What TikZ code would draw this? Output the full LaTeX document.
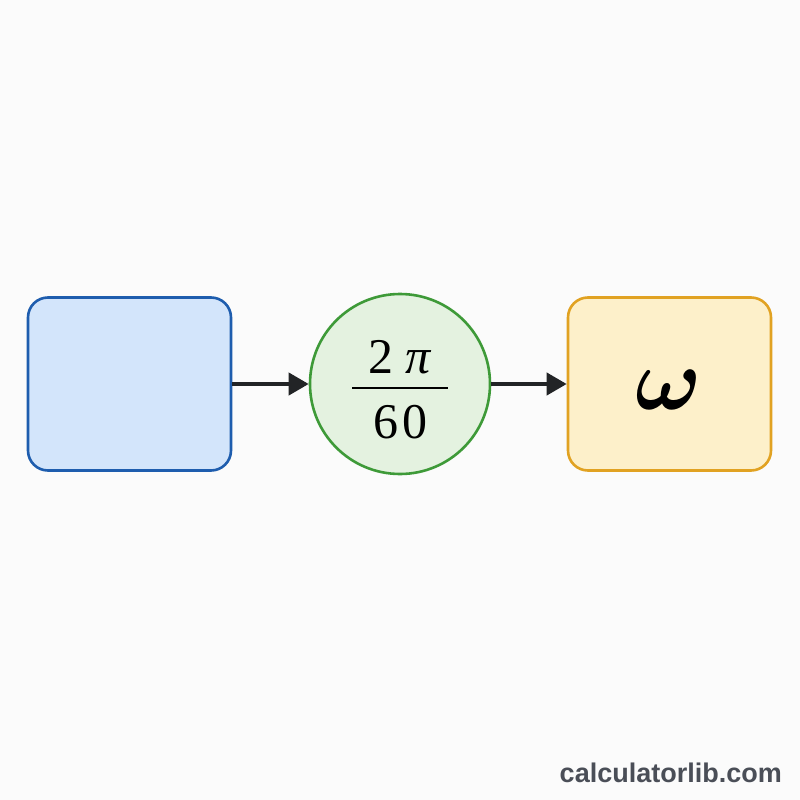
\documentclass[tikz,border=0pt]{standalone}
\usepackage{fontspec}
\usepackage{bm}
\setmainfont{Liberation Serif}
\newfontfamily\wmfont{Liberation Sans}
\usetikzlibrary{arrows.meta}
\definecolor{bgc}{HTML}{FBFBFB}
\definecolor{blueF}{HTML}{D3E5FB}
\definecolor{blueD}{HTML}{1E5DAE}
\definecolor{greenF}{HTML}{E4F2E0}
\definecolor{greenD}{HTML}{3E9A38}
\definecolor{yelF}{HTML}{FDF0CA}
\definecolor{yelD}{HTML}{E1A222}
\definecolor{arr}{HTML}{222426}
\definecolor{wm}{HTML}{4A4E57}
\tikzset{
  boxst/.style={draw, line width=2.6pt, rounded corners=20pt, minimum width=203pt, minimum height=173pt, inner sep=0pt},
  circst/.style={circle, draw=greenD, fill=greenF, line width=2.6pt, minimum size=180pt, inner sep=0pt},
  arrst/.style={draw=arr, line width=4pt, -{Triangle[length=20pt,width=22pt]}},
  numst/.style={inner sep=0pt, anchor=base, font=\fontsize{50}{50}\selectfont}
}
\begin{document}
\begin{tikzpicture}[x=1pt,y=-1pt]
\useasboundingbox (0,0) rectangle (800,800);
\fill[bgc] (0,0) rectangle (800,800);
\node[boxst, draw=blueD, fill=blueF] (inp) at (129.5,384) {};
\node[circst] (conv) at (400,384) {};
\node[boxst, draw=yelD, fill=yelF] (out) at (669.5,384) {};
\node[numst] (num) at (400,373) {2\kern12pt\textit{π}};
\node[numst] (den) at (400,438) {6\kern4pt0};
\coordinate (barL) at (352,388);
\coordinate (barR) at (448,388);
\draw[line width=2.6pt, black] (barL) -- (barR);
\node[inner sep=0pt, anchor=base] (omega) at (669,409) {\scalebox{8.8}{$\bm{\omega}$}};
\draw[arrst] (inp.east) -- (conv.west);
\draw[arrst] (conv.east) -- (out.west);
\node[inner sep=0pt, anchor=base east, text=wm] (wmark) at (782,782) {\wmfont\bfseries\fontsize{27}{27}\selectfont calculatorlib.com};
\end{tikzpicture}
\end{document}
